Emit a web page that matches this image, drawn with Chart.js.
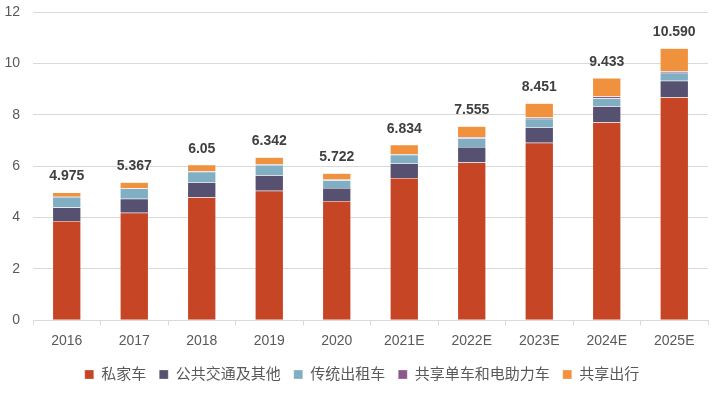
<!DOCTYPE html>
<html lang="zh">
<head>
<meta charset="UTF-8" />
<title>出行结构</title>
<script src="https://cdn.jsdelivr.net/npm/chart.js"></script>
<style>
  html, body { margin: 0; padding: 0; background: #fff; }
  #wrap { width: 713px; height: 399px; position: relative; }
</style>
</head>
<body>
<div id="wrap"><canvas id="c"></canvas></div>
<script>
  // 数据
  const years = ["2016", "2017", "2018", "2019", "2020", "2021E", "2022E", "2023E", "2024E", "2025E"];
  const privateCar = [3.86, 4.18, 4.79, 5.04, 4.64, 5.54, 6.14, 6.91, 7.71, 8.68];
  const publicTransit = [0.53, 0.55, 0.58, 0.60, 0.51, 0.57, 0.60, 0.60, 0.62, 0.64];
  const taxi = [0.41, 0.40, 0.41, 0.40, 0.30, 0.33, 0.33, 0.33, 0.31, 0.31];
  const sharedBike = [0.01, 0.02, 0.02, 0.03, 0.03, 0.03, 0.05, 0.05, 0.07, 0.06];
  const rideHailing = [0.165, 0.217, 0.25, 0.272, 0.242, 0.364, 0.435, 0.561, 0.723, 0.90];
  const totalLabels = ["4.975", "5.367", "6.05", "6.342", "5.722", "6.834", "7.555", "8.451", "9.433", "10.590"];
  const yTicks = [0, 2, 4, 6, 8, 10, 12];

  const FONT = '"Liberation Sans", "Noto Sans CJK SC", Arial, sans-serif';

  const series = [
    { label: "私家车", data: privateCar, color: "#C64524" },
    { label: "公共交通及其他", data: publicTransit, color: "#575171" },
    { label: "传统出租车", data: taxi, color: "#80AEC3" },
    { label: "共享单车和电助力车", data: sharedBike, color: "#8A5A8E" },
    { label: "共享出行", data: rideHailing, color: "#F0913D" },
  ];

  /* 总数标签 */
  const totalsPlugin = {
    id: "totals",
    afterDatasetsDraw(chart) {
      const { ctx, scales: { x, y } } = chart;
      ctx.save();
      ctx.font = "bold 14px " + FONT;
      ctx.fillStyle = "#404040";
      ctx.textAlign = "center";
      ctx.textBaseline = "middle";
      years.forEach((_, i) => {
        const sum = series.reduce((s, d) => s + d.data[i], 0);
        ctx.fillText(totalLabels[i], x.getPixelForValue(i), y.getPixelForValue(sum) - 16);
      });
      ctx.restore();
    }
  };

  /* 图例位置微调 */
  const legendShift = {
    id: "legendShift",
    afterLayout(chart) {
      const lg = chart.legend;
      if (!lg) return;
      lg.left += 8; lg.right += 8;
      lg.top -= 4; lg.bottom -= 4;
    }
  };

  new Chart(document.getElementById("c"), {
    type: "bar",
    data: {
      labels: years,
      datasets: series.map(s => ({
        label: s.label,
        data: s.data,
        backgroundColor: s.color,
        borderColor: "rgba(255,255,255,0.5)",
        borderWidth: 0.5,
        categoryPercentage: 1,
        barPercentage: 0.42,
      }))
    },
    options: {
      responsive: true,
      maintainAspectRatio: false,
      animation: false,
      layout: { padding: { top: 0, right: 5, left: 0, bottom: 3 } },
      plugins: {
        legend: {
          position: "bottom",
          labels: {
            boxWidth: 9,
            boxHeight: 9,
            padding: 13,
            color: "#595959",
            font: { size: 15, family: FONT },
          }
        },
        tooltip: { enabled: false },
      },
      scales: {
        x: {
          stacked: true,
          grid: { drawOnChartArea: false, drawTicks: true, tickLength: 5, color: "#d9d9d9" },
          border: { display: true, color: "#d9d9d9" },
          ticks: { color: "#595959", font: { size: 14, family: FONT }, padding: 8 },
        },
        y: {
          stacked: true,
          min: 0,
          max: 12,
          afterBuildTicks: axis => { axis.ticks = yTicks.map(v => ({ value: v })); },
          afterFit: axis => { axis.width = 33; axis.paddingTop = 12; },
          grid: { color: "#d9d9d9", drawTicks: false },
          border: { display: false },
          ticks: { color: "#595959", font: { size: 14, family: FONT }, padding: 13 },
        }
      }
    },
    plugins: [totalsPlugin, legendShift]
  });
</script>
</body>
</html>
